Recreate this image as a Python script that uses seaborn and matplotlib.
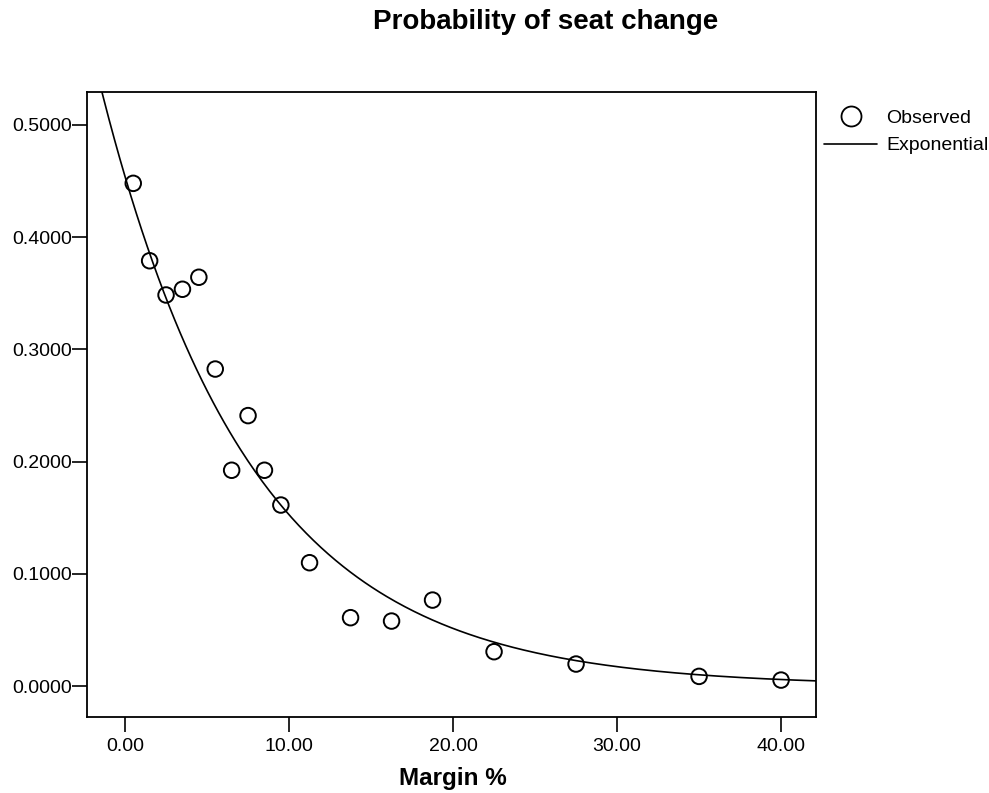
import numpy as np
import pandas as pd
import matplotlib
matplotlib.use("Agg")
import matplotlib.pyplot as plt
import seaborn as sns
from matplotlib.lines import Line2D

margin = [0.5, 1.5, 2.5, 3.5, 4.5, 5.5, 6.5, 7.5, 8.5, 9.5,
          11.25, 13.75, 16.25, 18.75, 22.5, 27.5, 35.0, 40.0]
prob = [0.448, 0.379, 0.3485, 0.3536, 0.3643, 0.2825, 0.1923, 0.241, 0.1923, 0.1613,
        0.1099, 0.0609, 0.0579, 0.0766, 0.0306, 0.0196, 0.0086, 0.0053]

# Exponential curve parameters: y = a * exp(b * x)
exp_a = 0.454
exp_b = -0.109

x_ticks = [0, 10, 20, 30, 40]
x_tick_labels = ["0.00", "10.00", "20.00", "30.00", "40.00"]
y_ticks = [0.0, 0.1, 0.2, 0.3, 0.4, 0.5]
y_tick_labels = ["0.0000", "0.1000", "0.2000", "0.3000", "0.4000", "0.5000"]

sns.set_style("white")
plt.rcParams["font.family"] = ["Liberation Sans", "DejaVu Sans"]
plt.rcParams["text.color"] = "black"
plt.rcParams["axes.labelcolor"] = "black"

fig = plt.figure(figsize=(9.89, 7.93), dpi=100)
ax = fig.add_axes([87 / 989, 1 - 717 / 793, 729 / 989, 625 / 793])

xmin, xmax = -2.32, 42.13
ymin, ymax = -0.0276, 0.5294

xs = np.linspace(xmin, xmax, 400)
curve = pd.DataFrame({"x": xs, "y": exp_a * np.exp(exp_b * xs)})
obs = pd.DataFrame({"x": margin, "y": prob})

sns.lineplot(data=curve, x="x", y="y", ax=ax, color="black", linewidth=1.2,
             estimator=None, sort=False)
sns.scatterplot(data=obs, x="x", y="y", ax=ax, marker="o", s=125,
                facecolor="none", edgecolor="black", linewidth=1.4)

ax.set_xlim(xmin, xmax)
ax.set_ylim(ymin, ymax)
ax.set_xticks(x_ticks)
ax.set_xticklabels(x_tick_labels)
ax.set_yticks(y_ticks)
ax.set_yticklabels(y_tick_labels)
ax.tick_params(axis="both", which="both", direction="out", length=11, width=1.2,
               color="black", labelsize=14, labelcolor="black",
               bottom=True, left=True)
ax.tick_params(axis="x", pad=4)
ax.tick_params(axis="y", pad=0)
for sp in ax.spines.values():
    sp.set_visible(True)
    sp.set_color("black")
    sp.set_linewidth(1.3)

ax.set_xlabel("Margin %", fontsize=17.5, fontweight="bold")
ax.xaxis.set_label_coords((453 - 87) / 729, (717 - 778) / 625)
ax.xaxis.label.set_va("center")
ax.set_ylabel("")

fig.text(546 / 989, 1 - 29 / 793, "Probability of seat change", ha="center",
         va="baseline", fontsize=20, fontweight="bold")

handles = [
    Line2D([], [], marker="o", linestyle="none", markersize=14.4,
           markerfacecolor="none", markeredgecolor="black", markeredgewidth=1.3),
    Line2D([], [], color="black", linewidth=1.2),
]
leg = fig.legend(handles, ["Observed", "Exponential"], loc="upper left",
                 bbox_to_anchor=(824 / 989, 1 - 109 / 793), frameon=False, fontsize=14,
                 handlelength=2.73, handletextpad=0.46, labelspacing=0.52,
                 borderaxespad=0, borderpad=0)

fig.savefig("out.png", dpi=100)
